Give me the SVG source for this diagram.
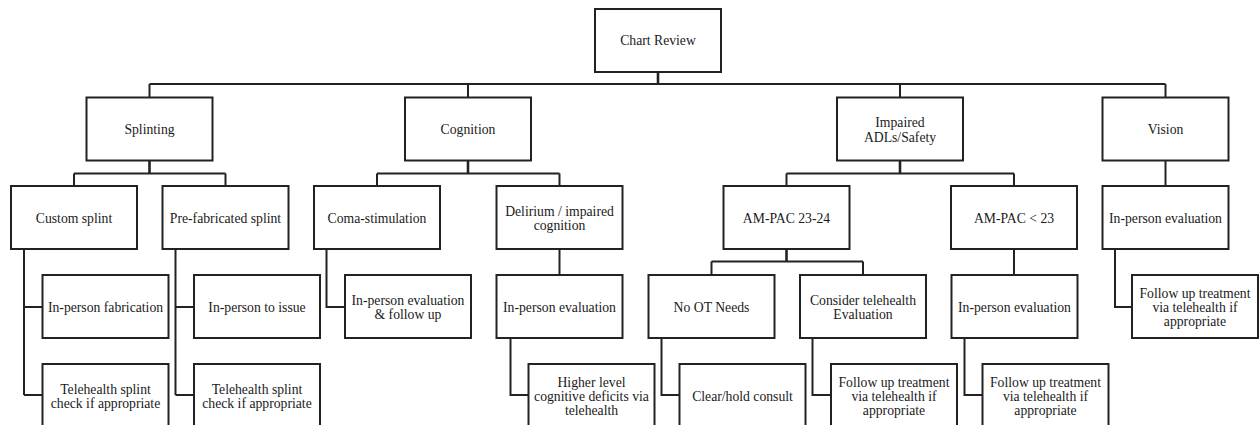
<svg xmlns="http://www.w3.org/2000/svg" width="1259" height="425" viewBox="0 0 1259 425">
<style>
rect{fill:#fff;stroke:#222;stroke-width:2}
text{font-family:"Liberation Serif","Times New Roman",serif;font-size:13.7px;fill:#1a1a1a;text-anchor:middle}
#connectors path{fill:none;stroke:#222;stroke-width:2}
#connectors path.stem{stroke-width:2.6}
</style>
<g id="connectors">
<path class="stem" d="M658,72V84"/>
<path d="M149.5,84H1165.5M149.5,84V97.5M468,84V97.5M900,84V97.5M1165.5,84V97.5"/>
<path class="stem" d="M149.5,160.5V173.5M468,160.5V173.5M900,160.5V173.5"/>
<path d="M74,173.5H225.5M74,173.5V186M225.5,173.5V186"/>
<path d="M377,173.5H559.5M377,173.5V186M559.5,173.5V186"/>
<path d="M786.5,173.5H1014M786.5,173.5V186M1014,173.5V186"/>
<path d="M1165.5,160.5V186"/>
<path d="M24,249V395M24,307H42.5M24,395H42.5"/>
<path d="M175.5,249V395M175.5,307H194M175.5,395H194"/>
<path d="M326.5,249V307H345"/>
<path d="M559.5,249V275"/>
<path d="M510.5,338V395H528.5"/>
<path class="stem" d="M786.5,249V261.5"/>
<path d="M711.5,261.5H863M711.5,261.5V275M863,261.5V275"/>
<path d="M661.5,338V395H679.5"/>
<path d="M812.5,338V395H831"/>
<path d="M1014,249V275"/>
<path d="M964.5,338V395H982.5"/>
<path d="M1115,249V307H1132"/>
</g>
<g id="chart-review"><rect x="595" y="9" width="126" height="63"/><text x="658" y="45">Chart Review</text></g>
<g id="splinting"><rect x="86.5" y="97.5" width="126" height="63"/><text x="149.5" y="134">Splinting</text></g>
<g id="cognition"><rect x="405" y="97.5" width="126" height="63"/><text x="468" y="134">Cognition</text></g>
<g id="impaired-adls"><rect x="837" y="97.5" width="126" height="63"/><text x="900" y="127">Impaired</text><text x="900" y="141.5">ADLs/Safety</text></g>
<g id="vision"><rect x="1102.5" y="97.5" width="126" height="63"/><text x="1165.5" y="134">Vision</text></g>
<g id="custom-splint"><rect x="11" y="186" width="126" height="63"/><text x="74" y="222.5">Custom splint</text></g>
<g id="prefab-splint"><rect x="162.5" y="186" width="126" height="63"/><text x="225.5" y="222.5">Pre-fabricated splint</text></g>
<g id="coma-stimulation"><rect x="314" y="186" width="126" height="63"/><text x="377" y="222.5">Coma-stimulation</text></g>
<g id="delirium"><rect x="496.5" y="186" width="126" height="63"/><text x="559.5" y="215.5">Delirium / impaired</text><text x="559.5" y="230">cognition</text></g>
<g id="ampac-23-24"><rect x="723.5" y="186" width="126" height="63"/><text x="786.5" y="222.5">AM-PAC 23-24</text></g>
<g id="ampac-lt-23"><rect x="951" y="186" width="126" height="63"/><text x="1014" y="222.5">AM-PAC &lt; 23</text></g>
<g id="vision-inperson"><rect x="1102.5" y="186" width="126" height="63"/><text x="1165.5" y="222.5">In-person evaluation</text></g>
<g id="inperson-fabrication"><rect x="42.5" y="275" width="126" height="63"/><text x="105.5" y="311.5">In-person fabrication</text></g>
<g id="inperson-issue"><rect x="194" y="275" width="126" height="63"/><text x="257" y="311.5">In-person to issue</text></g>
<g id="coma-inperson"><rect x="345" y="275" width="126" height="63"/><text x="408" y="304.5">In-person evaluation</text><text x="408" y="319">&amp; follow up</text></g>
<g id="delirium-inperson"><rect x="496.5" y="275" width="126" height="63"/><text x="559.5" y="311.5">In-person evaluation</text></g>
<g id="no-ot-needs"><rect x="648.5" y="275" width="126" height="63"/><text x="711.5" y="311.5">No OT Needs</text></g>
<g id="consider-telehealth"><rect x="800" y="275" width="126" height="63"/><text x="863" y="304.5">Consider telehealth</text><text x="863" y="319">Evaluation</text></g>
<g id="ampac-inperson"><rect x="951.5" y="275" width="126" height="63"/><text x="1014.5" y="311.5">In-person evaluation</text></g>
<g id="vision-followup"><rect x="1132" y="275" width="126" height="63"/><text x="1195" y="297.5">Follow up treatment</text><text x="1195" y="311.5">via telehealth if</text><text x="1195" y="325.5">appropriate</text></g>
<g id="telehealth-splint-1"><rect x="42.5" y="364" width="126" height="63"/><text x="105.5" y="393.5">Telehealth splint</text><text x="105.5" y="408">check if appropriate</text></g>
<g id="telehealth-splint-2"><rect x="194" y="364" width="126" height="63"/><text x="257" y="393.5">Telehealth splint</text><text x="257" y="408">check if appropriate</text></g>
<g id="higher-level"><rect x="528.5" y="364" width="126" height="63"/><text x="591.5" y="386.5">Higher level</text><text x="591.5" y="400.5">cognitive deficits via</text><text x="591.5" y="414.5">telehealth</text></g>
<g id="clear-hold"><rect x="679.5" y="364" width="126" height="63"/><text x="742.5" y="400.5">Clear/hold consult</text></g>
<g id="followup-consider"><rect x="831" y="364" width="126" height="63"/><text x="894" y="386.5">Follow up treatment</text><text x="894" y="400.5">via telehealth if</text><text x="894" y="414.5">appropriate</text></g>
<g id="followup-ampac"><rect x="982.5" y="364" width="126" height="63"/><text x="1045.5" y="386.5">Follow up treatment</text><text x="1045.5" y="400.5">via telehealth if</text><text x="1045.5" y="414.5">appropriate</text></g>
</svg>
